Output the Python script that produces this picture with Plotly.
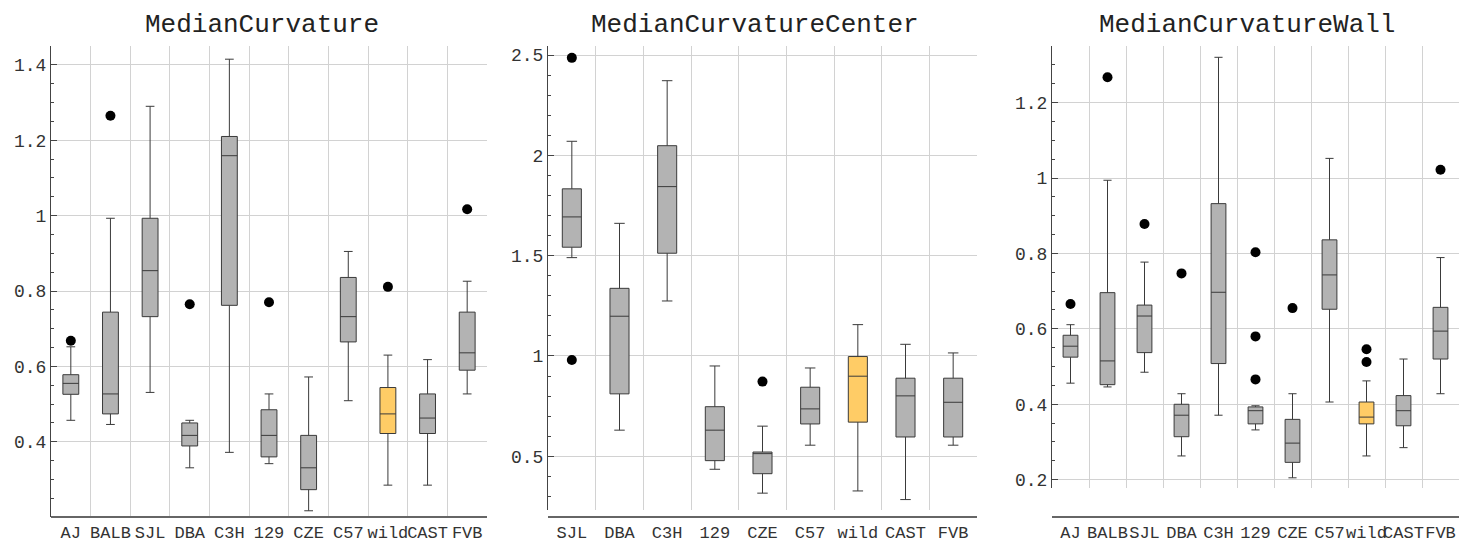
import plotly.graph_objects as go

# MedianCurvature
mc_strains = ["AJ", "BALB", "SJL", "DBA", "C3H", "129", "CZE", "C57", "wild", "CAST", "FVB"]
mc_low = [0.457, 0.446, 0.531, 0.331, 0.372, 0.342, 0.217, 0.509, 0.285, 0.285, 0.527]
mc_q1 = [0.526, 0.474, 0.732, 0.389, 0.762, 0.360, 0.273, 0.665, 0.422, 0.422, 0.590]
mc_med = [0.555, 0.527, 0.854, 0.417, 1.159, 0.417, 0.331, 0.732, 0.474, 0.463, 0.636]
mc_q3 = [0.578, 0.744, 0.993, 0.450, 1.210, 0.485, 0.417, 0.836, 0.544, 0.527, 0.744]
mc_high = [0.652, 0.993, 1.290, 0.457, 1.415, 0.527, 0.572, 0.905, 0.630, 0.618, 0.826]
mc_out_x = ["AJ", "BALB", "DBA", "129", "wild", "FVB"]
mc_out_y = [0.668, 1.265, 0.765, 0.770, 0.811, 1.017]

# MedianCurvatureCenter
mcc_strains = ["SJL", "DBA", "C3H", "129", "CZE", "C57", "wild", "CAST", "FVB"]
mcc_low = [1.490, 0.630, 1.274, 0.435, 0.316, 0.555, 0.327, 0.284, 0.555]
mcc_q1 = [1.542, 0.811, 1.512, 0.478, 0.413, 0.661, 0.670, 0.596, 0.596]
mcc_med = [1.693, 1.198, 1.844, 0.630, 0.513, 0.736, 0.899, 0.801, 0.769]
mcc_q3 = [1.833, 1.337, 2.048, 0.747, 0.521, 0.844, 0.997, 0.889, 0.889]
mcc_high = [2.070, 1.661, 2.372, 0.950, 0.650, 0.940, 1.156, 1.058, 1.015]
mcc_out_x = ["SJL", "SJL", "CZE"]
mcc_out_y = [2.486, 0.980, 0.872]

# MedianCurvatureWall
mcw_strains = ["AJ", "BALB", "SJL", "DBA", "C3H", "129", "CZE", "C57", "wild", "CAST", "FVB"]
mcw_low = [0.456, 0.446, 0.485, 0.263, 0.371, 0.332, 0.205, 0.406, 0.263, 0.285, 0.428]
mcw_q1 = [0.525, 0.452, 0.537, 0.314, 0.508, 0.348, 0.246, 0.652, 0.348, 0.343, 0.520]
mcw_med = [0.554, 0.515, 0.634, 0.371, 0.697, 0.383, 0.297, 0.743, 0.366, 0.383, 0.594]
mcw_q3 = [0.583, 0.696, 0.663, 0.400, 0.932, 0.393, 0.360, 0.836, 0.406, 0.423, 0.657]
mcw_high = [0.611, 0.994, 0.777, 0.428, 1.320, 0.396, 0.428, 1.052, 0.462, 0.520, 0.789]
mcw_out_x = ["AJ", "BALB", "SJL", "DBA", "129", "129", "129", "CZE", "wild", "wild", "FVB"]
mcw_out_y = [0.666, 1.267, 0.878, 0.747, 0.803, 0.580, 0.466, 0.655, 0.546, 0.512, 1.022]

titles = ["MedianCurvature", "MedianCurvatureCenter", "MedianCurvatureWall"]
highlight = "wild"

GRAY = "#b3b3b3"
ORANGE = "#ffcc66"
EDGE = "#3a3a3a"
FONT = "Liberation Mono"

# the page body keeps its default 8px margin, so the figure is shrunk by that
OFF = 8
W, H = 1472 - OFF, 550 - OFF


def px(x):
    return (x - OFF) / W


def py(y):
    return 1 - (y - OFF) / H


fig = go.Figure()


def add_panel(n, strains, low, q1, med, q3, high, out_x, out_y):
    xa = "x" if n == 1 else "x%d" % n
    ya = "y" if n == 1 else "y%d" % n
    for color, keep in [(GRAY, lambda s: s != highlight), (ORANGE, lambda s: s == highlight)]:
        idx = [i for i, s in enumerate(strains) if keep(s)]
        fig.add_trace(go.Box(
            x=[strains[i] for i in idx],
            q1=[q1[i] for i in idx],
            median=[med[i] for i in idx],
            q3=[q3[i] for i in idx],
            lowerfence=[low[i] for i in idx],
            upperfence=[high[i] for i in idx],
            fillcolor=color,
            line=dict(color=EDGE, width=1),
            width=0.4,
            whiskerwidth=0.55,
            boxpoints=False,
            showlegend=False,
            xaxis=xa, yaxis=ya,
        ))
    fig.add_trace(go.Scatter(
        x=out_x, y=out_y, mode="markers",
        marker=dict(color="black", size=10),
        showlegend=False, xaxis=xa, yaxis=ya,
    ))


add_panel(1, mc_strains, mc_low, mc_q1, mc_med, mc_q3, mc_high, mc_out_x, mc_out_y)
add_panel(2, mcc_strains, mcc_low, mcc_q1, mcc_med, mcc_q3, mcc_high, mcc_out_x, mcc_out_y)
add_panel(3, mcw_strains, mcw_low, mcw_q1, mcw_med, mcw_q3, mcw_high, mcw_out_x, mcw_out_y)

# pixel boxes of the three plot areas: (left, right, top, bottom)
panels = [(51, 487, 46, 517), (548, 977, 46, 510), (1052, 1459, 46, 488)]
xaxis_y = 517
yranges = [[0.2005, 1.45], [0.232, 2.545], [0.178, 1.35]]
dticks = [(0.2, 0.05), (0.5, 0.1), (0.2, 0.05)]
cats = [mc_strains, mcc_strains, mcw_strains]
title_x = [262, 755, 1247]

for i, (l, r, t, b) in enumerate(panels):
    n = i + 1
    xk = "xaxis" if n == 1 else "xaxis%d" % n
    yk = "yaxis" if n == 1 else "yaxis%d" % n
    xa = "x" if n == 1 else "x%d" % n
    fig.layout[xk] = dict(
        domain=[px(l), px(r)],
        anchor="free", position=py(xaxis_y),
        type="category", categoryorder="array", categoryarray=cats[i],
        range=[-0.5, len(cats[i]) - 0.5],
        tickson="boundaries", ticks="",
        showgrid=True, gridcolor="#d2d2d2", gridwidth=1,
        showline=True, linecolor="#666666", linewidth=2,
        tickangle=0, tickfont=dict(family=FONT, size=17, color="#333333"),
        automargin=False,
    )
    fig.layout[yk] = dict(
        domain=[py(b), py(t)],
        anchor=xa, range=yranges[i],
        tick0=0, dtick=dticks[i][0],
        ticks="inside", ticklen=6, tickcolor="#444444",
        minor=dict(dtick=dticks[i][1], ticks="inside", ticklen=3, tickcolor="#444444", showgrid=False),
        showgrid=True, gridcolor="#d2d2d2", gridwidth=1, zeroline=False,
        showline=True, linecolor="#444444", linewidth=1,
        tickfont=dict(family=FONT, size=18, color="#333333"),
        automargin=False,
    )
    fig.add_annotation(
        text=titles[i], x=px(title_x[i]), y=py(25),
        xref="paper", yref="paper", xanchor="center", yanchor="middle",
        showarrow=False, font=dict(family=FONT, size=26, color="#222222"),
    )

fig.update_layout(
    width=W, height=H,
    margin=dict(l=0, r=0, t=0, b=0),
    paper_bgcolor="white", plot_bgcolor="white",
    boxmode="overlay",
)

fig.write_html("out.html")
